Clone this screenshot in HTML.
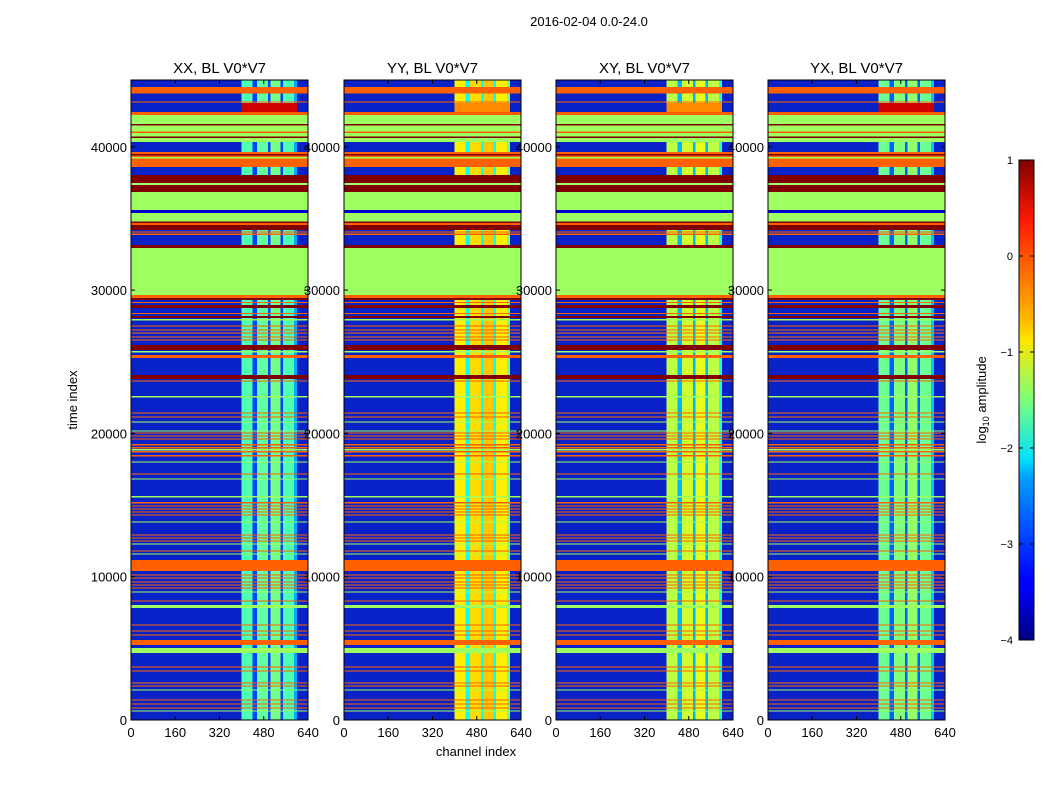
<!DOCTYPE html>
<html><head><meta charset="utf-8">
<style>
body{margin:0;background:#fff;}
svg{display:block;font-family:"Liberation Sans",sans-serif;}
</style></head>
<body>
<svg id="chart" width="1050" height="800" viewBox="0 0 1050 800">
<defs>
<linearGradient id="jetgrad" x1="0" y1="1" x2="0" y2="0">
<stop offset="0" stop-color="#00007f"/><stop offset="0.11" stop-color="#0000ff"/><stop offset="0.125" stop-color="#0000ff"/>
<stop offset="0.34" stop-color="#00a0ff"/><stop offset="0.375" stop-color="#00e0ff"/><stop offset="0.5" stop-color="#7dff7a"/>
<stop offset="0.625" stop-color="#ffe600"/><stop offset="0.66" stop-color="#ffc000"/><stop offset="0.875" stop-color="#ff1800"/><stop offset="1" stop-color="#7f0000"/>
</linearGradient>
</defs>
<text x="589" y="26" font-size="13" text-anchor="middle">2016-02-04 0.0-24.0</text>
<text x="476" y="756" font-size="13" text-anchor="middle">channel index</text>
<text x="0" y="0" font-size="13" text-anchor="middle" transform="translate(77,400) rotate(-90)">time index</text>
<g id="panels"></g>
<g>
<rect x="1019" y="160" width="15" height="480" fill="url(#jetgrad)" stroke="#000" stroke-width="1"/>
</g>
<g id="cbticks"></g>
<text x="0" y="0" font-size="13" text-anchor="middle" transform="translate(986,400) rotate(-90)">log<tspan font-size="9" dy="3">10</tspan><tspan dy="-3"> amplitude</tspan></text>
</svg>
<script>
const titles=["XX, BL V0*V7","YY, BL V0*V7","XY, BL V0*V7","YX, BL V0*V7"];
const rfiLevel=[-1.75,-0.8,-1.2,-1.6];
const rfiHotLevel=[0.6,-0.3,-0.3,0.6];
const noiseColor="rgb(8,34,200)";
const xTicks=[0,160,320,480,640];
const yTicks=[0,10000,20000,30000,40000];
const cbTicks=[1,0,-1,-2,-3,-4];
const G=-1.35,O=-0.1,R=1,B=-3.6;
const bands=[[43710,44170,O],[43100,43170,O],[42230,42440,O],[41600,42230,G],[41500,41600,R],[41050,41500,G],[40950,41050,O],[40700,40950,G],[40600,40700,R],[40350,40600,G],
[38600,39650,O],[37480,38040,R],[37340,37480,G],[36850,37340,R],[35600,36850,G],[35390,35600,B],[34800,35390,G],[34690,34800,R],[34550,34690,O],[34200,34550,R],
[32950,33150,R],[29660,32950,G],[29450,29660,O],[29300,29450,R],[28760,28970,R],[28060,28200,R],[25830,26170,R],[25270,25480,O],[23800,24080,R],
[10400,11170,O],[7820,8030,G],[5230,5580,O],[4680,5030,G]];
const lineT=[39440,39230,34060,33900,29130,28370,27920,27500,27220,27010,26730,26520,25690,23660,22550,21430,21150,20800,20170,20030,19820,19610,19200,18990,18850,18710,18430,18010,17170,16820,15570,15150,14940,14730,14520,14310,13820,12910,12700,12490,12280,11800,11590,10120,9910,9630,9420,9210,8930,8310,6630,6210,5930,3700,3420,2580,2370,2090,1400,1120,840,630];
const lineV=[R,G,O,O,O,O,G,O,O,O,O,O,G,O,G,O,O,G,G,O,O,O,O,O,G,O,O,G,O,G,G,O,O,O,O,O,G,O,O,O,G,O,G,O,O,O,O,O,G,O,O,O,O,O,O,O,O,G,O,O,O,G];
const hotBands=[[42430,43050],[5230,5580]];
const stripes=[[400,440,0],[440,455,-1.3],[455,495,0.1],[495,505,-1.3],[505,540,0.2],[540,550,-1.3],[550,590,0],[590,600,-0.8]];
const T0=0,T1=44660,C1=640;
const lefts=[131,344,556,768],PW=177,TOP=80,BOT=720;
function jet(v){let x=(v+4)/5;x=Math.max(0,Math.min(1,x));
 const c=t=>Math.round(255*Math.max(0,Math.min(1,t)));
 return `rgb(${c(1.5-Math.abs(4*x-3))},${c(1.5-Math.abs(4*x-2))},${c(1.5-Math.abs(4*x-1))})`;}
const NS="http://www.w3.org/2000/svg";
function mk(tag,attrs,parent){const e=document.createElementNS(NS,tag);for(const k in attrs)e.setAttribute(k,attrs[k]);parent.appendChild(e);return e;}
const yS=t=>BOT-(t-T0)/(T1-T0)*(BOT-TOP);
const root=document.getElementById('panels');
lefts.forEach((L,p)=>{
 const xS=c=>L+c/C1*PW;
 const g=mk('g',{'shape-rendering':'crispEdges'},root);
 
 
 const bg=mk('rect',{x:L,y:TOP,width:PW,height:BOT-TOP,fill:noiseColor},g);
 
 
 stripes.forEach(s=>{const r=mk('rect',{x:xS(s[0]),y:TOP,width:xS(s[1])-xS(s[0]),height:BOT-TOP,fill:jet(rfiLevel[p]+s[2])},g);
  
  });
 hotBands.forEach(h=>{const r=mk('rect',{x:xS(400),y:yS(h[1]),width:xS(600)-xS(400),height:yS(h[0])-yS(h[1]),fill:jet(rfiHotLevel[p])},g);
  
  });
 bands.forEach(b=>{const r=mk('rect',{x:L,y:yS(b[1]),width:PW,height:Math.max(1,yS(b[0])-yS(b[1])),fill:jet(b[2])},g);
  
  });
 lineT.forEach((t,i)=>{const r=mk('rect',{x:L,y:yS(t+45),width:PW,height:Math.max(1.2,yS(t-45)-yS(t+45)),fill:jet(lineV[i])},g);
  
  });
 mk('rect',{x:L,y:TOP,width:PW,height:BOT-TOP,fill:'none',stroke:'#000','stroke-width':1},root);
 const tt=mk('text',{x:L+PW/2,y:TOP-7,'font-size':15,'text-anchor':'middle'},root);tt.textContent=titles[p];
 
 
 xTicks.forEach(v=>{const x=xS(v);
  mk('line',{x1:x,x2:x,y1:BOT,y2:BOT-4,stroke:'#000'},root);mk('line',{x1:x,x2:x,y1:TOP,y2:TOP+4,stroke:'#000'},root);
  const t=mk('text',{x:x,y:BOT+17,'font-size':13,'text-anchor':'middle'},root);t.textContent=v;
  
  });
 yTicks.forEach(v=>{const y=yS(v);
  mk('line',{x1:L,x2:L+4,y1:y,y2:y,stroke:'#000'},root);mk('line',{x1:L+PW,x2:L+PW-4,y1:y,y2:y,stroke:'#000'},root);
  const t=mk('text',{x:L-4,y:y+5,'font-size':13,'text-anchor':'end'},root);t.textContent=v;
  
  });
});
const cb=document.getElementById('cbticks');
cbTicks.forEach(v=>{const y=160+(1-v)/5*480;
 mk('line',{x1:1019,x2:1023,y1:y,y2:y,stroke:'#000'},cb);mk('line',{x1:1034,x2:1030,y1:y,y2:y,stroke:'#000'},cb);
 const t=mk('text',{x:1013,y:y+4,'font-size':11,'text-anchor':'end'},cb);t.textContent=v<0?'\u2212'+(-v):v;
 
 });
</script>
</body></html>
